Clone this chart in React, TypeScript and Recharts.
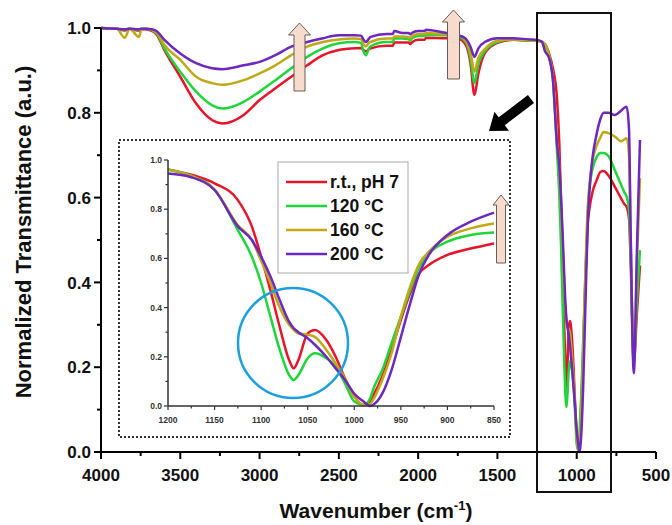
import { Line, LineChart, XAxis, YAxis } from "recharts";

const seriesNames = ["r.t., pH 7", "120 °C", "160 °C", "200 °C"];
const seriesKeys = ["rt", "c120", "c160", "c200"];
const seriesColors = ["#e8142a", "#1fd63a", "#c0a818", "#6c28c0"];

// full spectrum, above 1200 cm-1
const highWave = [4000, 3900, 3850, 3820, 3760, 3745, 3720, 3680, 3650, 3600, 3500, 3400, 3300, 3235, 3100, 3000, 2900, 2800, 2700, 2600, 2500, 2400, 2360, 2345, 2330, 2310, 2300, 2200, 2160, 2150, 2100, 2060, 2050, 2040, 2000, 1960, 1950, 1850, 1750, 1700, 1670, 1645, 1620, 1580, 1500, 1400, 1300, 1250, 1220];
const highRt = [1.0, 0.998, 0.994, 0.998, 0.994, 0.997, 0.997, 0.993, 0.985, 0.948, 0.885, 0.822, 0.783, 0.775, 0.795, 0.83, 0.858, 0.885, 0.912, 0.936, 0.948, 0.952, 0.953, 0.948, 0.945, 0.95, 0.952, 0.958, 0.958, 0.966, 0.966, 0.966, 0.962, 0.966, 0.972, 0.972, 0.977, 0.976, 0.975, 0.96, 0.917, 0.842, 0.893, 0.94, 0.965, 0.972, 0.97, 0.97, 0.967];
const high120 = [1.0, 0.998, 0.996, 0.998, 0.996, 0.998, 0.998, 0.995, 0.988, 0.952, 0.897, 0.85, 0.818, 0.81, 0.826, 0.85, 0.877, 0.905, 0.932, 0.952, 0.964, 0.967, 0.965, 0.945, 0.936, 0.952, 0.957, 0.967, 0.967, 0.976, 0.975, 0.974, 0.97, 0.975, 0.981, 0.981, 0.984, 0.983, 0.98, 0.967, 0.93, 0.87, 0.915, 0.945, 0.967, 0.973, 0.97, 0.97, 0.967];
const high160 = [1.0, 0.998, 0.977, 0.998, 0.979, 0.997, 0.998, 0.996, 0.99, 0.96, 0.925, 0.885, 0.87, 0.866, 0.877, 0.893, 0.912, 0.936, 0.956, 0.967, 0.973, 0.975, 0.974, 0.962, 0.957, 0.965, 0.967, 0.975, 0.975, 0.98, 0.98, 0.979, 0.976, 0.98, 0.986, 0.986, 0.988, 0.986, 0.983, 0.97, 0.942, 0.897, 0.93, 0.95, 0.97, 0.973, 0.971, 0.97, 0.967];
const high200 = [1.0, 0.998, 0.997, 0.998, 0.997, 0.998, 0.998, 0.997, 0.993, 0.972, 0.94, 0.917, 0.905, 0.903, 0.912, 0.92, 0.936, 0.956, 0.967, 0.976, 0.983, 0.983, 0.982, 0.973, 0.967, 0.975, 0.979, 0.986, 0.986, 0.993, 0.988, 0.988, 0.985, 0.988, 0.993, 0.993, 0.996, 0.99, 0.983, 0.975, 0.956, 0.932, 0.952, 0.967, 0.976, 0.976, 0.973, 0.972, 0.968];

// 1200-850 cm-1 (inset, also used in the full spectrum)
const zoomWave = [1200, 1175, 1150, 1125, 1110, 1100, 1090, 1080, 1070, 1065, 1060, 1050, 1042, 1030, 1020, 1010, 1000, 990, 983, 980, 970, 960, 950, 940, 930, 920, 900, 875, 850];
const zoomRt = [0.962, 0.94, 0.905, 0.837, 0.73, 0.607, 0.47, 0.32, 0.187, 0.153, 0.187, 0.295, 0.309, 0.268, 0.2, 0.112, 0.038, 0.004, 0.02, 0.04, 0.12, 0.228, 0.35, 0.458, 0.54, 0.573, 0.614, 0.64, 0.661];
const zoom120 = [0.96, 0.935, 0.88, 0.715, 0.607, 0.5, 0.363, 0.228, 0.126, 0.106, 0.126, 0.194, 0.214, 0.194, 0.16, 0.092, 0.018, 0.004, 0.03, 0.065, 0.146, 0.255, 0.363, 0.47, 0.566, 0.62, 0.668, 0.695, 0.705];
const zoom160 = [0.962, 0.935, 0.88, 0.735, 0.675, 0.59, 0.5, 0.4, 0.33, 0.31, 0.295, 0.29, 0.28, 0.228, 0.173, 0.112, 0.038, 0.006, 0.008, 0.024, 0.106, 0.214, 0.363, 0.485, 0.58, 0.627, 0.688, 0.722, 0.742];
const zoom200 = [0.945, 0.93, 0.878, 0.73, 0.675, 0.607, 0.526, 0.43, 0.343, 0.316, 0.3, 0.275, 0.248, 0.2, 0.153, 0.106, 0.05, 0.018, 0.0, 0.004, 0.05, 0.146, 0.28, 0.417, 0.54, 0.614, 0.695, 0.749, 0.786];

// below 850 cm-1
const lowWave = [830, 800, 760, 720, 700, 685, 670, 660, 640, 620, 601];
const lowRt = [0.663, 0.652, 0.626, 0.598, 0.585, 0.578, 0.55, 0.45, 0.21, 0.33, 0.44];
const low120 = [0.705, 0.698, 0.665, 0.63, 0.613, 0.602, 0.57, 0.47, 0.22, 0.36, 0.476];
const low160 = [0.755, 0.752, 0.744, 0.733, 0.737, 0.74, 0.7, 0.52, 0.2, 0.45, 0.646];
const low200 = [0.8, 0.8, 0.795, 0.805, 0.812, 0.814, 0.76, 0.52, 0.186, 0.48, 0.736];

const mainXTicks = [4000, 3750, 3500, 3250, 3000, 2750, 2500, 2250, 2000, 1750, 1500, 1250, 1000, 750, 500];
const mainYTicks = [0, 0.1, 0.2, 0.3, 0.4, 0.5, 0.6, 0.7, 0.8, 0.9, 1.0];
const insetXTicks = [1200, 1175, 1150, 1125, 1100, 1075, 1050, 1025, 1000, 975, 950, 925, 900, 875, 850];
const insetYTicks = [0, 0.1, 0.2, 0.3, 0.4, 0.5, 0.6, 0.7, 0.8, 0.9, 1.0];

function rows(wave: number[], cols: number[][]) {
  return wave.map((w, i) => {
    const row: Record<string, number> = { w };
    seriesKeys.forEach((k, s) => (row[k] = cols[s][i]));
    return row;
  });
}

const zoomData = rows(zoomWave, [zoomRt, zoom120, zoom160, zoom200]);
const mainData = [
  ...rows(highWave, [highRt, high120, high160, high200]),
  ...zoomData,
  ...rows(lowWave, [lowRt, low120, low160, low200]),
];

const FONT = "'Liberation Sans', Arial, sans-serif";

function MainXTick(props: any) {
  const { x, y, payload } = props;
  const major = payload.value % 500 === 0;
  return (
    <g>
      <line x1={x} x2={x} y1={y} y2={y + (major ? 7 : 4)} stroke="#000" strokeWidth={2} />
      {major && (
        <text x={x} y={y + 29} textAnchor="middle" fontSize={17} fontWeight="bold" fontFamily={FONT} fill="#111">
          {payload.value}
        </text>
      )}
    </g>
  );
}

function MainYTick(props: any) {
  const { x, y, payload } = props;
  const major = Math.round(payload.value * 10) % 2 === 0;
  return (
    <g>
      <line x1={x - (major ? 7 : 4)} x2={x} y1={y} y2={y} stroke="#000" strokeWidth={2} />
      {major && (
        <text x={x - 10} y={y} dy="0.36em" textAnchor="end" fontSize={17} fontWeight="bold" fontFamily={FONT} fill="#111">
          {payload.value.toFixed(1)}
        </text>
      )}
    </g>
  );
}

function InsetXTick(props: any) {
  const { x, y, payload } = props;
  const major = payload.value % 50 === 0;
  return (
    <g>
      <line x1={x} x2={x} y1={y} y2={y + (major ? 4 : 2.5)} stroke="#333" strokeWidth={1.2} />
      {major && (
        <text x={x} y={y + 17} textAnchor="middle" fontSize={8.5} fontWeight="bold" fontFamily={FONT} fill="#333">
          {payload.value}
        </text>
      )}
    </g>
  );
}

function InsetYTick(props: any) {
  const { x, y, payload } = props;
  const major = Math.round(payload.value * 10) % 2 === 0;
  return (
    <g>
      <line x1={x - (major ? 4 : 2.5)} x2={x} y1={y} y2={y} stroke="#333" strokeWidth={1.2} />
      {major && (
        <text x={x - 6} y={y} dy="0.35em" textAnchor="end" fontSize={8.5} fontWeight="bold" fontFamily={FONT} fill="#333">
          {payload.value.toFixed(1)}
        </text>
      )}
    </g>
  );
}

function upArrow(cx: number, tip: number, bottom: number, shaft: number, head: number, headH: number) {
  const s = shaft / 2;
  const h = head / 2;
  return `M${cx - s},${bottom} L${cx - s},${tip + headH} L${cx - h},${tip + headH} L${cx},${tip} L${cx + h},${tip + headH} L${cx + s},${tip + headH} L${cx + s},${bottom} Z`;
}

function blockArrow(x0: number, y0: number, x1: number, y1: number, shaft: number, head: number, headL: number) {
  const len = Math.hypot(x1 - x0, y1 - y0);
  const dx = (x1 - x0) / len;
  const dy = (y1 - y0) / len;
  const nx = -dy;
  const ny = dx;
  const bx = x1 - dx * headL;
  const by = y1 - dy * headL;
  const p = (x: number, y: number, k: number) => `${x + nx * k},${y + ny * k}`;
  return `M${p(x0, y0, shaft / 2)} L${p(bx, by, shaft / 2)} L${p(bx, by, head / 2)} L${x1},${y1} L${p(bx, by, -head / 2)} L${p(bx, by, -shaft / 2)} L${p(x0, y0, -shaft / 2)} Z`;
}

export default function App() {
  return (
    <div style={{ position: "relative", width: 672, height: 525, background: "#fff" }}>
      <style>{`body{margin:0}`}</style>
      <div style={{ position: "absolute", left: 0, top: 0 }}>
        <LineChart width={672} height={525} data={mainData} margin={{ top: 28, right: 16, bottom: 33, left: 41 }}>
          <XAxis
            dataKey="w"
            type="number"
            domain={[500, 4000]}
            reversed
            ticks={mainXTicks}
            interval={0}
            height={40}
            tickSize={0}
            tickMargin={0}
            tickLine={false}
            axisLine={{ stroke: "#000", strokeWidth: 2 }}
            tick={<MainXTick />}
          />
          <YAxis
            type="number"
            domain={[0, 1]}
            ticks={mainYTicks}
            interval={0}
            width={60}
            tickSize={0}
            tickMargin={0}
            tickLine={false}
            axisLine={{ stroke: "#000", strokeWidth: 2 }}
            tick={<MainYTick />}
          />
          {seriesKeys.map((k, i) => (
            <Line key={k} dataKey={k} name={seriesNames[i]} type="monotone" stroke={seriesColors[i]} strokeWidth={2.5} dot={false} isAnimationActive={false} />
          ))}
        </LineChart>
      </div>

      <div style={{ position: "absolute", left: 119, top: 140 }}>
        <LineChart width={391} height={297} data={zoomData} margin={{ top: 20, right: 16, bottom: 11, left: 19 }}>
          <XAxis
            dataKey="w"
            type="number"
            domain={[850, 1200]}
            reversed
            ticks={insetXTicks}
            interval={0}
            height={20}
            tickSize={0}
            tickMargin={0}
            tickLine={false}
            axisLine={{ stroke: "#333", strokeWidth: 1.5 }}
            tick={<InsetXTick />}
          />
          <YAxis
            type="number"
            domain={[0, 1]}
            ticks={insetYTicks}
            interval={0}
            width={30}
            tickSize={0}
            tickMargin={0}
            tickLine={false}
            axisLine={{ stroke: "#333", strokeWidth: 1.5 }}
            tick={<InsetYTick />}
          />
          {seriesKeys.map((k, i) => (
            <Line key={k} dataKey={k} name={seriesNames[i]} type="monotone" stroke={seriesColors[i]} strokeWidth={2.5} dot={false} isAnimationActive={false} />
          ))}
        </LineChart>
      </div>

      <svg width={672} height={525} style={{ position: "absolute", left: 0, top: 0, pointerEvents: "none" }}>
        {/* inset frame */}
        <rect x={119} y={140} width={391} height={297} fill="none" stroke="#333" strokeWidth={2} strokeDasharray="2 2" />
        {/* legend */}
        <rect x={278} y={162} width={130} height={111} fill="#fff" stroke="#aaa" strokeWidth={1} />
        {seriesNames.map((n, i) => (
          <g key={n}>
            <line x1={286} x2={327} y1={182 + i * 24} y2={182 + i * 24} stroke={seriesColors[i]} strokeWidth={2.5} />
            <text x={330} y={182 + i * 24} dy="0.36em" fontSize={17.5} fontWeight="bold" fontFamily={FONT} fill="#111">
              {n}
            </text>
          </g>
        ))}
        {/* highlight circle */}
        <circle cx={293} cy={343} r={55} fill="none" stroke="#1c9fe0" strokeWidth={2.5} />
        {/* zoom window */}
        <rect x={537} y={13} width={74} height={479} fill="none" stroke="#111" strokeWidth={2} />
        {/* arrows */}
        <path d={upArrow(299.5, 23, 91, 11, 22, 12)} fill="#f7dccd" stroke="#6b5a55" strokeWidth={1} />
        <path d={upArrow(453.5, 10, 79, 12, 22, 12)} fill="#f7dccd" stroke="#6b5a55" strokeWidth={1} />
        <path d={upArrow(501, 195, 263, 9, 16, 10)} fill="#f7dccd" stroke="#6b5a55" strokeWidth={1} />
        <path d={blockArrow(531, 99, 489, 131, 10, 24, 16)} fill="#000" />
        {/* axis titles */}
        <text
          x={23}
          y={232}
          transform="rotate(-90 23 232)"
          dy="0.36em"
          textAnchor="middle"
          fontSize={22}
          fontWeight="bold"
          fontFamily={FONT}
          fill="#111"
        >
          Normalized Transmittance (a.u.)
        </text>
        <text x={376} y={518} textAnchor="middle" fontSize={21} fontWeight="bold" fontFamily={FONT} fill="#111">
          Wavenumber (cm<tspan dy={-8} fontSize={13}>-1</tspan>
          <tspan dy={8}>)</tspan>
        </text>
      </svg>
    </div>
  );
}
